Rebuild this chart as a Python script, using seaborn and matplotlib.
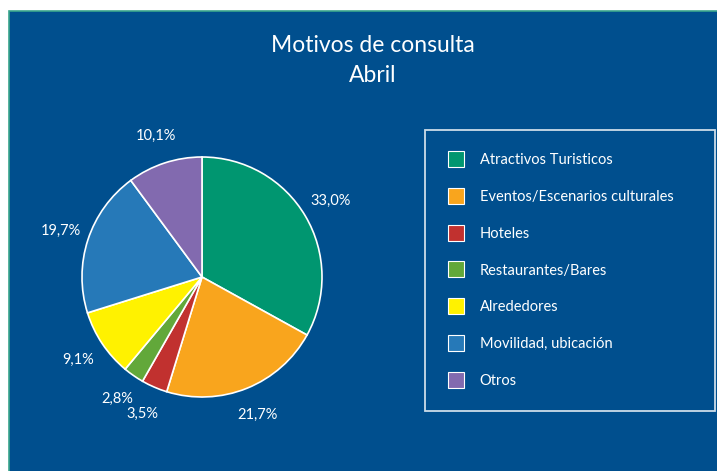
import matplotlib
matplotlib.use("Agg")
import matplotlib.pyplot as plt
from matplotlib.patches import Rectangle
from matplotlib.lines import Line2D
import seaborn as sns

# Motivos de consulta - Abril (porcentajes)
categorias = ["Atractivos Turisticos", "Eventos/Escenarios culturales", "Hoteles",
              "Restaurantes/Bares", "Alrededores", "Movilidad, ubicación", "Otros"]
porcentajes = [33.0, 21.7, 3.5, 2.8, 9.1, 19.7, 10.1]
colores = ["#009670", "#F9A51D", "#C1312F", "#62A83A", "#FFF200", "#2679B8", "#826AAF"]

fondo = "#004F8E"

sns.set_style("white")
plt.rcParams["font.family"] = ["Lato", "DejaVu Sans"]

fig = plt.figure(figsize=(7.17, 4.71), dpi=100)
fig.patch.set_facecolor("white")

# blue panel with thin teal border
fig.patches.append(Rectangle((9 / 717, -0.01), 1, 1 - 11 / 471 + 0.01, transform=fig.transFigure,
                             facecolor=fondo, edgecolor="#3aa68c", linewidth=1.2, zorder=-10))

fig.text(373 / 717, 1 - 45 / 471, "Motivos de consulta", color="white", fontsize=16.5,
         ha="center", va="center")
fig.text(373 / 717, 1 - 76 / 471, "Abril", color="white", fontsize=16.5,
         ha="center", va="center")

ax = fig.add_axes([22 / 717, 14 / 471, 360 / 717, 360 / 471])
ax.set_facecolor("none")
ax.set_zorder(2)


def fmt(p):
    return f"{p:.1f}%".replace(".", ",")


wedges, _, autotexts = ax.pie(porcentajes, colors=colores, startangle=90, counterclock=False,
                              autopct=fmt, pctdistance=1.24,
                              wedgeprops=dict(edgecolor="white", linewidth=1.2),
                              textprops=dict(color="white", fontsize=10.5))
ax.set_xlim(-1.5, 1.5)
ax.set_ylim(-1.5, 1.5)
ax.set_aspect("equal")
ax.axis("off")

handles = [Line2D([0], [0], marker="s", linestyle="none", markersize=11,
                  markerfacecolor=c, markeredgecolor="white", markeredgewidth=0.8)
           for c in colores]
leg = fig.legend(handles, categorias, loc="upper left",
                 bbox_to_anchor=(425 / 717, 1 - 130 / 471, 290 / 717, 0.0),
                 mode="expand", frameon=True, fancybox=False, fontsize=10.5,
                 labelcolor="white", labelspacing=1.56, borderpad=1.6,
                 handlelength=1.0, handletextpad=1.15, borderaxespad=0)
frame = leg.get_frame()
frame.set_facecolor("none")
frame.set_edgecolor("white")
frame.set_linewidth(1.3)

fig.savefig("out.png", dpi=100, facecolor=fig.get_facecolor())
